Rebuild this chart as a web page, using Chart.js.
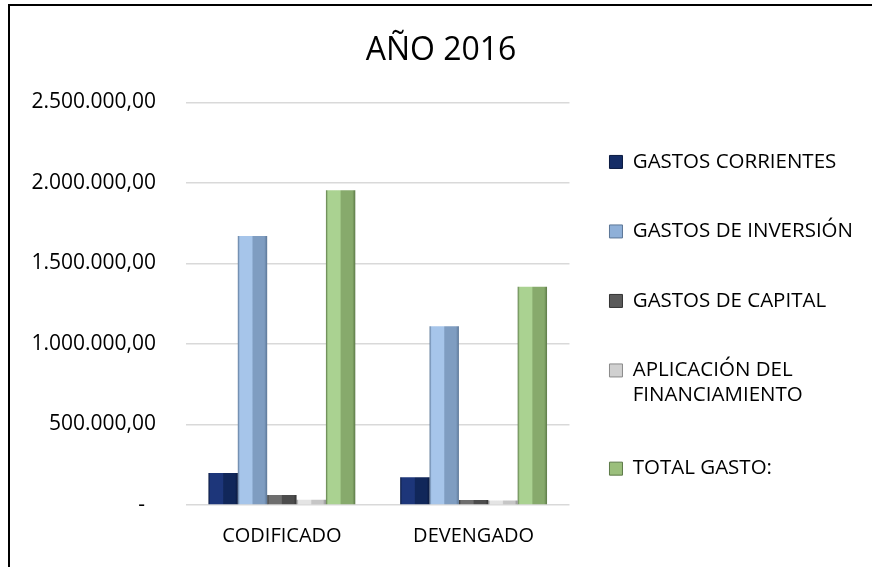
<!DOCTYPE html>
<html>
<head>
<meta charset="utf-8">
<script src="https://cdn.jsdelivr.net/npm/chart.js@4.4.1/dist/chart.umd.min.js"></script>
<style>
  html, body { margin: 0; padding: 0; background: #fff; }
  #frame {
    position: absolute; left: 8px; top: 4px;
    width: 864px; height: 563px;
    border-top: 2px solid #000; border-left: 2px solid #000;
    box-sizing: border-box;
  }
</style>
</head>
<body>
<div id="frame"><canvas id="gastos"></canvas></div>
<script>
// data
const categories = ['CODIFICADO', 'DEVENGADO'];
const seriesNames = [
  'GASTOS CORRIENTES',
  'GASTOS DE INVERSIÓN',
  'GASTOS DE CAPITAL',
  'APLICACIÓN DEL\nFINANCIAMIENTO',
  'TOTAL GASTO:'
];
const gastosCorrientes = [198000, 173000];
const gastosInversion = [1671000, 1110000];
const gastosCapital = [62000, 31000];
const aplicacionFinanciamiento = [33000, 28000];
const totalGasto = [1955000, 1355000];
const yTickLabels = ['-  ', '500.000,00', '1.000.000,00', '1.500.000,00', '2.000.000,00', '2.500.000,00'];

const seriesValues = [gastosCorrientes, gastosInversion, gastosCapital, aplicacionFinanciamiento, totalGasto];

// bar shading (left lit face, right shaded face)
const seriesStyle = [
  { light: '#1d367a', dark: '#11275a', edge: '#0a1a40', mid: '#152d66' },
  { light: '#a6c5ea', dark: '#7f9dc1', edge: '#5c7797', mid: '#8fb0d8' },
  { light: '#6e6e6e', dark: '#4c4c4c', edge: '#333333', mid: '#5a5a5a' },
  { light: '#e4e4e4', dark: '#c6c6c6', edge: '#8a8a8a', mid: '#d0d0d0' },
  { light: '#aad291', dark: '#87aa6c', edge: '#5d7a48', mid: '#9bbf7c' }
];

const CAT_PCT = 0.766;

function barFill(ctx, s) {
  const chart = ctx.chart;
  const x = chart.scales && chart.scales.x;
  if (!chart.chartArea || !x || ctx.type !== 'data') return s.mid;
  const catW = x.width / categories.length;
  const barW = catW * CAT_PCT / seriesNames.length;
  const left = x.getPixelForValue(ctx.dataIndex) - catW * CAT_PCT / 2 + ctx.datasetIndex * barW;
  const g = chart.ctx.createLinearGradient(left, 0, left + barW, 0);
  g.addColorStop(0, s.edge);
  g.addColorStop(0.07, s.light);
  g.addColorStop(0.48, s.light);
  g.addColorStop(0.52, s.dark);
  g.addColorStop(0.9, s.dark);
  g.addColorStop(1, s.edge);
  return g;
}

// pull the legend a bit closer to the plot, like the original
const legendNudge = {
  id: 'legendNudge',
  afterLayout(chart) {
    if (chart.legend) chart.legend.left -= 9;
  }
};

Chart.defaults.color = '#000';
Chart.defaults.font.family = '"Open Sans", "Liberation Sans", sans-serif';

const datasets = seriesNames.map((name, i) => ({
  label: name,
  data: seriesValues[i],
  backgroundColor: ctx => barFill(ctx, seriesStyle[i]),
  borderWidth: 0,
  categoryPercentage: CAT_PCT,
  barPercentage: 1.0
}));

new Chart(document.getElementById('gastos'), {
  type: 'bar',
  data: { labels: categories, datasets: datasets },
  plugins: [legendNudge],
  options: {
    responsive: true,
    maintainAspectRatio: false,
    animation: false,
    layout: { padding: { left: 0, right: 0, top: 0, bottom: 0 } },
    plugins: {
      title: {
        display: true,
        text: 'AÑO 2016',
        font: { size: 32, weight: 'normal' },
        padding: { top: 26, bottom: 32 }
      },
      legend: {
        position: 'right',
        maxWidth: 340,
        title: { display: true, text: '', font: { size: 12 }, padding: { top: 21.6, bottom: 21.6 } },
        labels: {
          boxWidth: 13,
          boxHeight: 13,
          padding: 49,
          font: { size: 20.5 },
          generateLabels: chart => chart.data.datasets.map((ds, i) => ({
            text: ds.label.includes('\n') ? ds.label.split('\n') : ds.label,
            fillStyle: seriesStyle[i].mid,
            strokeStyle: seriesStyle[i].edge,
            lineWidth: 1,
            fontColor: '#000',
            hidden: false,
            datasetIndex: i
          }))
        }
      },
      tooltip: { enabled: false }
    },
    scales: {
      x: {
        grid: { display: false, drawTicks: false },
        border: { display: false },
        ticks: { font: { size: 20 }, padding: 19 }
      },
      y: {
        min: 0,
        max: 2500000,
        afterFit: scale => { scale.width = 176; },
        grid: { color: '#d9d9d9', lineWidth: 1.5, drawTicks: false },
        border: { display: false },
        ticks: {
          stepSize: 500000,
          font: { size: 21 },
          padding: 30,
          callback: (v, i) => yTickLabels[i]
        }
      }
    }
  }
});
</script>
</body>
</html>
